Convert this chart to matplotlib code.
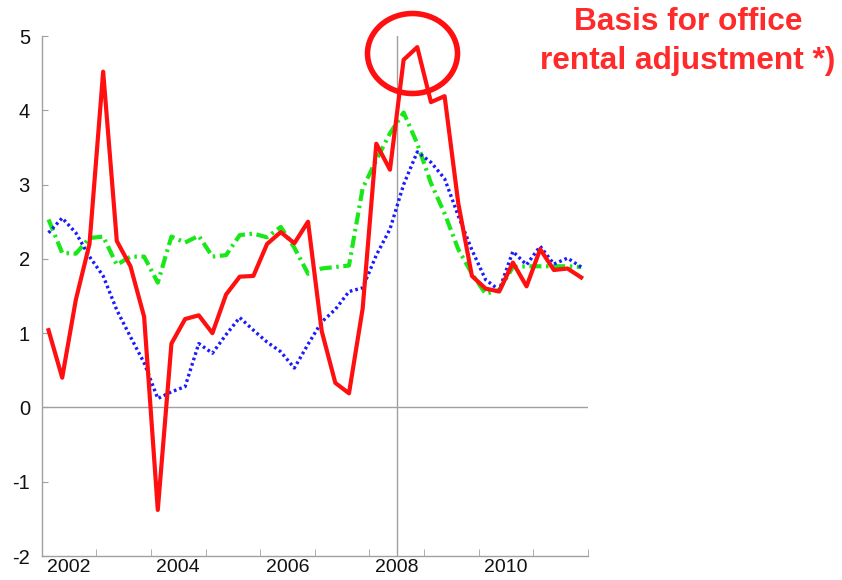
import matplotlib
matplotlib.use("Agg")
import matplotlib.pyplot as plt
from matplotlib.patches import Ellipse
from matplotlib.ticker import FixedLocator

plt.rcParams['font.family'] = ['Liberation Sans', 'DejaVu Sans']

# quarterly observations, Q3 2001 .. Q2 2011
start_year = 2001.625
red = [1.04, 0.40, 1.45, 2.2, 4.52, 2.24, 1.9, 1.22, -1.38, 0.86,
       1.19, 1.24, 1.0, 1.52, 1.76, 1.77, 2.2, 2.36, 2.21, 2.5,
       1.03, 0.33, 0.19, 1.33, 3.55, 3.2, 4.68, 4.85, 4.11, 4.19,
       2.75, 1.77, 1.6, 1.56, 1.95, 1.63, 2.13, 1.85, 1.87, 1.75]
green = [2.53, 2.08, 2.07, 2.28, 2.3, 1.92, 2.03, 2.03, 1.68, 2.3,
         2.22, 2.31, 2.03, 2.05, 2.32, 2.34, 2.29, 2.43, 2.15, 1.8,
         1.87, 1.89, 1.91, 2.95, 3.33, 3.69, 3.97, 3.55, 3.02, 2.61,
         2.13, 1.8, 1.53, 1.58, 1.89, 1.9, 1.9, 1.9, 1.9, 1.89]
blue = [2.35, 2.55, 2.35, 2.03, 1.77, 1.31, 0.95, 0.6, 0.12, 0.21,
        0.28, 0.86, 0.73, 0.98, 1.21, 1.04, 0.88, 0.75, 0.53, 0.85,
        1.15, 1.32, 1.56, 1.61, 2.05, 2.4, 3.0, 3.44, 3.3, 3.08,
        2.58, 2.12, 1.72, 1.58, 2.1, 1.92, 2.17, 1.93, 2.01, 1.89]
x = [start_year + 0.25 * i for i in range(len(red))]

year_labels = [2002, 2004, 2006, 2008, 2010]
y_ticks = [-2, -1, 0, 1, 2, 3, 4, 5]
annotation = "Basis for office\nrental adjustment *)"

fig = plt.figure(figsize=(8.42, 5.80), dpi=100)
ax = fig.add_axes([41.7 / 842, 1 - 556 / 580, (588 - 41.7) / 842, (556 - 36) / 580])

grey = '#a0a0a0'
ax.axhline(0, color=grey, lw=1.0, zorder=1)
ax.axvline(2008, color=grey, lw=1.0, zorder=1)

ax.plot(x, green, color='#18e818', lw=3.0, linestyle=(0, (2.9, 1.1, 0.6, 1.1)), zorder=2)
ax.plot(x, blue, color='#1a1aff', lw=2.4, linestyle=(0, (0.8, 0.9)), zorder=3)
ax.plot(x, red, color='#ff0f0f', lw=3.0, zorder=4)

ax.set_xlim(2001.5, 2011.5)
ax.set_ylim(-2, 5)
for s in ['top', 'right']:
    ax.spines[s].set_visible(False)
for s in ['left', 'bottom']:
    ax.spines[s].set_color(grey)
    ax.spines[s].set_linewidth(1.0)

ax.xaxis.set_major_locator(FixedLocator(year_labels))
ax.set_xticklabels([str(v) for v in year_labels])
ax.xaxis.set_minor_locator(FixedLocator([2001.5 + i for i in range(11)]))
ax.tick_params(axis='x', which='major', length=0, pad=2, labelsize=14, labelcolor='#111111')
ax.tick_params(axis='x', which='minor', direction='in', length=5, color=grey)
ax.set_yticks(y_ticks)
ax.set_yticklabels([str(v) for v in y_ticks])
ax.tick_params(axis='y', direction='in', length=4, color=grey, pad=8.5, labelsize=14.5, labelcolor='#111111')

fig.text(688 / 842, 1 - 41.5 / 580, annotation, color='#ff2a2a', fontsize=22.8, fontweight='bold',
         ha='center', va='center', linespacing=1.39)

ell = Ellipse((412.5 / 100, (580 - 53.5) / 100), 0.90, 0.80, fill=False, edgecolor='#ff0f0f',
              lw=4, transform=fig.dpi_scale_trans, zorder=10)
fig.patches.append(ell)

fig.savefig('out.png', dpi=100)
